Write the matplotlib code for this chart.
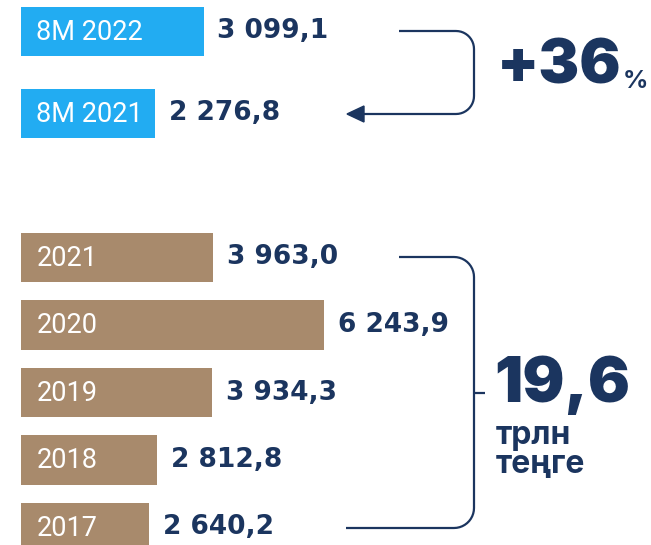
import numpy as np
import matplotlib.pyplot as plt
from matplotlib.path import Path
from matplotlib.patches import PathPatch, Polygon

# data
top_labels = ['8M 2022', '8M 2021']
top_values = [3099.1, 2276.8]
year_labels = ['2021', '2020', '2019', '2018', '2017']
year_values = [3963.0, 6243.9, 3934.3, 2812.8, 2640.2]
growth_text = '+36'
total_text = '19,6'
unit_text = 'трлн\nтеңге'

BLUE = '#22acf2'
BROWN = '#a88a6c'
NAVY = '#1b355f'
W, H = 651, 545

plt.rcParams['font.family'] = ['Inter', 'DejaVu Sans']


def fmt(v):
    return f'{v:,.1f}'.replace(',', ' ').replace('.', ',')


def px_box(x0, y0, x1, y1):
    # pixel box (top-down) -> figure fraction [left, bottom, width, height]
    return [x0 / W, 1 - y1 / H, (x1 - x0) / W, (y1 - y0) / H]


fig = plt.figure(figsize=(W / 100, H / 100), dpi=100)

# top block
ax1 = fig.add_axes(px_box(21, 0, 651, 150))
ax1.barh(range(len(top_values)), top_values, height=0.598, color=BLUE)
ax1.set_xlim(0, 630 / (183 / 3099.1))
ax1.set_ylim((150 - 31.5) / 82, -31.5 / 82)
for i, (lab, v) in enumerate(zip(top_labels, top_values)):
    ax1.annotate(lab, (0, i), xytext=(11, -0.5), textcoords='offset points',
                 va='center', ha='left', color='white', fontsize=19.5,
                 family='Roboto')
    ax1.annotate(fmt(v), (v, i), xytext=(9.5, 0), textcoords='offset points',
                 va='center', ha='left', color=NAVY, fontsize=19,
                 fontweight='bold', family='DejaVu Sans')
ax1.axis('off')

# bottom block
ax2 = fig.add_axes(px_box(21, 230, 651, 545))
ax2.barh(range(len(year_values)), year_values, height=0.726, color=BROWN)
ax2.set_xlim(0, 630 / (303 / 6243.9))
ax2.set_ylim((545 - 257.5) / 67.5, (230 - 257.5) / 67.5)
for i, (lab, v) in enumerate(zip(year_labels, year_values)):
    ax2.annotate(lab, (0, i), xytext=(11, -0.5), textcoords='offset points',
                 va='center', ha='left', color='white', fontsize=19.5,
                 family='Roboto')
    ax2.annotate(fmt(v), (v, i), xytext=(10, 0), textcoords='offset points',
                 va='center', ha='left', color=NAVY, fontsize=19,
                 fontweight='bold', family='DejaVu Sans')
ax2.axis('off')


def fp(x, y):
    return (x / W, 1 - y / H)


def bracket(x0, ytop, xr, ybot, x1, r):
    pts = [(x0, ytop), (xr - r, ytop)]
    for a in np.linspace(np.pi / 2, 0, 12):
        pts.append((xr - r + r * np.cos(a), ytop + r - r * np.sin(a)))
    pts.append((xr, ybot - r))
    for a in np.linspace(0, -np.pi / 2, 12):
        pts.append((xr - r + r * np.cos(a), ybot - r - r * np.sin(a)))
    pts.append((x1, ybot))
    return [fp(x, y) for x, y in pts]


p = Path(bracket(399, 31, 474, 114, 362, 18))
fig.add_artist(PathPatch(p, fill=False, edgecolor=NAVY, lw=1.6,
                         transform=fig.transFigure))
fig.add_artist(Polygon([fp(347, 114), fp(364, 106), fp(364, 122)],
                       closed=True, color=NAVY, transform=fig.transFigure))

p = Path(bracket(399, 257, 474, 528, 346, 20))
fig.add_artist(PathPatch(p, fill=False, edgecolor=NAVY, lw=1.6,
                         transform=fig.transFigure))
fig.add_artist(PathPatch(Path([fp(474, 393), fp(485, 393)]), fill=False,
                         edgecolor=NAVY, lw=1.6, transform=fig.transFigure))

fig.text(*fp(497, 67), growth_text, color=NAVY, fontsize=44,
         fontweight='black', va='center', ha='left')
fig.text(*fp(623, 88), '%', color=NAVY, fontsize=18, fontweight='bold',
         va='baseline', ha='left')
fig.text(*fp(494, 385), total_text, color=NAVY, fontsize=45,
         fontweight='black', va='center', ha='left')
fig.text(*fp(496, 420), unit_text, color=NAVY, fontsize=23,
         fontweight='bold', va='top', ha='left', linespacing=0.9)

fig.savefig('out.png', dpi=100, facecolor='white')
